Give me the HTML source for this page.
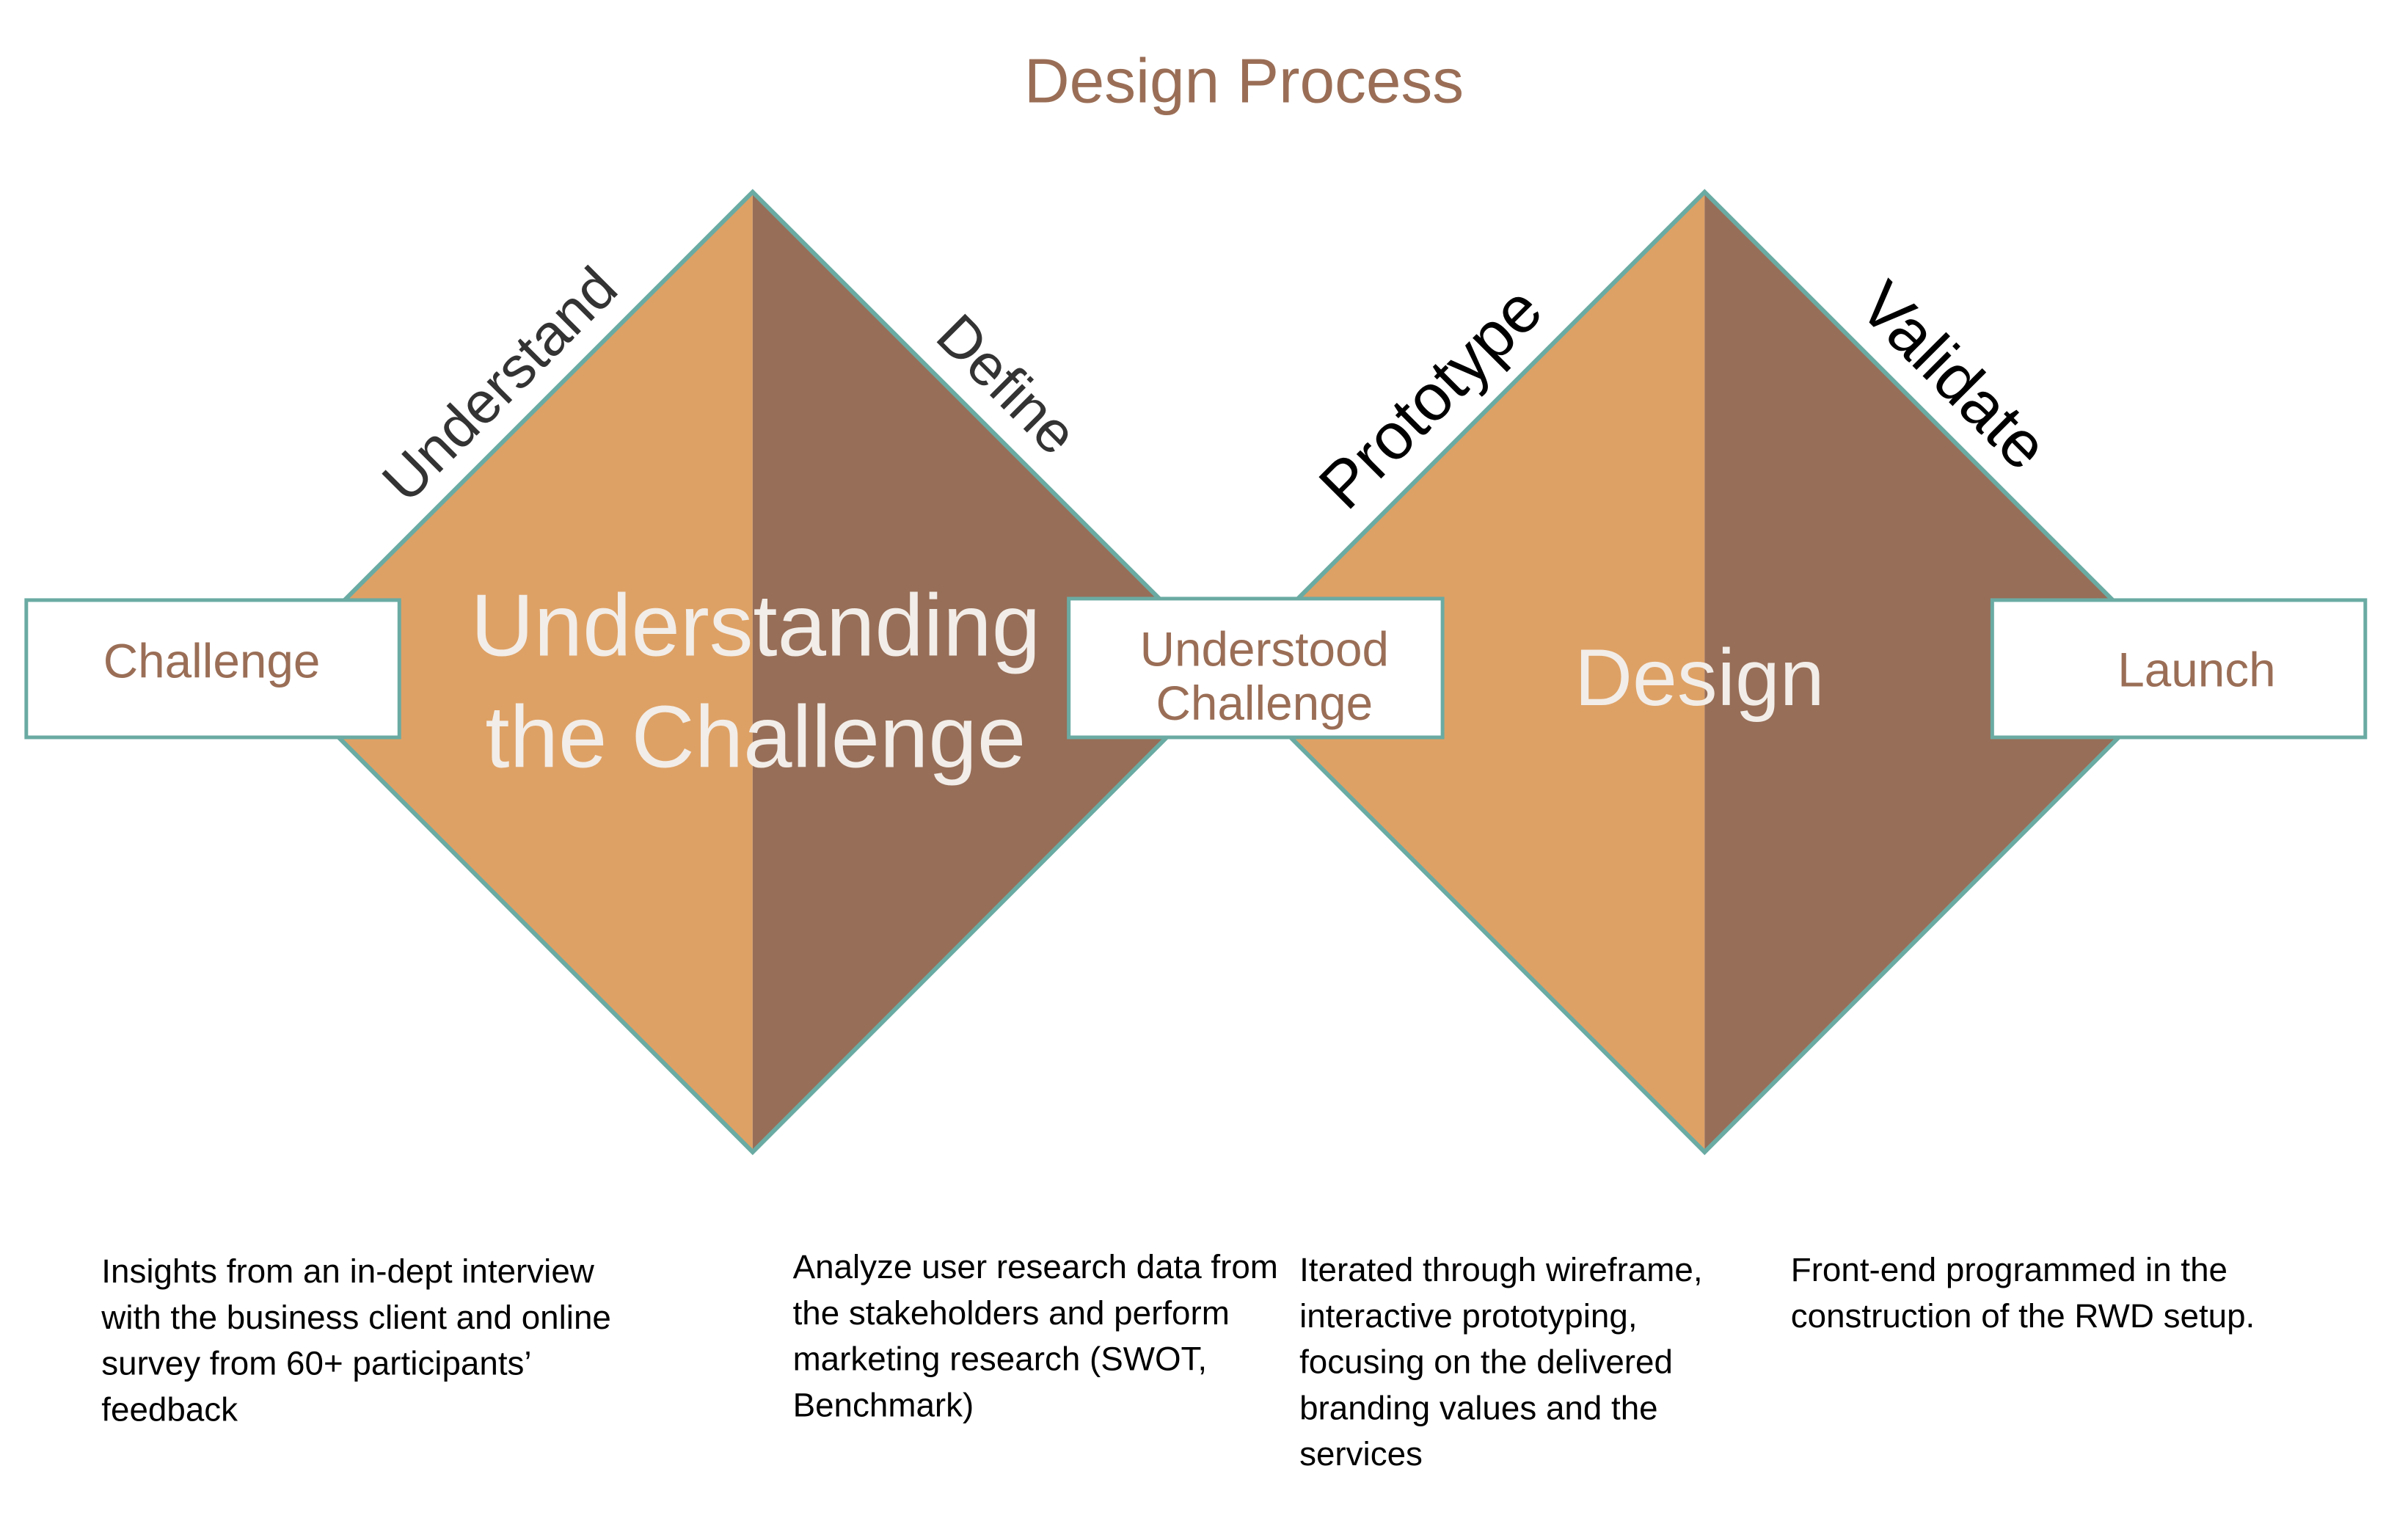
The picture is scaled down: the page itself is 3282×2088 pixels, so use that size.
<!DOCTYPE html>
<html><head><meta charset="utf-8"><style>
html,body{margin:0;padding:0;background:#fff;}
svg{display:block;}
text{font-family:"Liberation Sans",sans-serif;}
</style></head><body>
<svg width="3282" height="2088" viewBox="0 0 3282 2088" xmlns="http://www.w3.org/2000/svg">
<rect width="3282" height="2088" fill="#fff"/>
<g transform="scale(0.995)">
<text x="1704" y="140" font-size="86" fill="#9a6e56" text-anchor="middle">Design Process</text>

<polygon points="1031,263 374,920 1031,1578" fill="#dea165"/>
<polygon points="1031,263 1688,920 1031,1578" fill="#976e58"/>
<polygon points="1031,263 1688,920 1031,1578 374,920" fill="none" stroke="#6aaba3" stroke-width="6"/>
<polygon points="2335,263 1678,920 2335,1578" fill="#dea165"/>
<polygon points="2335,263 2992,920 2335,1578" fill="#976e58"/>
<polygon points="2335,263 2992,920 2335,1578 1678,920" fill="none" stroke="#6aaba3" stroke-width="6"/>

<text x="1035" y="898" font-size="120" fill="#f2ede8" text-anchor="middle">Understanding</text>
<text x="1035" y="1051" font-size="120" fill="#f2ede8" text-anchor="middle">the Challenge</text>
<text x="2328" y="966" font-size="110" fill="#f2ede8" text-anchor="middle">Design</text>

<text transform="translate(684,526) rotate(-45)" x="0" y="28" font-size="80" fill="#333" text-anchor="middle">Understand</text>
<text transform="translate(1380,526) rotate(45)" x="0" y="28" font-size="80" fill="#333" text-anchor="middle">Define</text>
<text transform="translate(1960,545) rotate(-45)" x="0" y="30" font-size="90" fill="#000" text-anchor="middle">Prototype</text>
<text transform="translate(2676,515) rotate(45)" x="0" y="30" font-size="90" fill="#000" text-anchor="middle">Validate</text>

<rect x="36" y="822" width="511" height="188" fill="#fff" stroke="#6aaba3" stroke-width="5"/>
<text x="290" y="928" font-size="66" fill="#9a6e56" text-anchor="middle">Challenge</text>
<rect x="1464" y="820" width="512" height="190" fill="#fff" stroke="#6aaba3" stroke-width="5"/>
<text x="1732" y="912" font-size="66" fill="#9a6e56" text-anchor="middle">Understood</text>
<text x="1732" y="986" font-size="66" fill="#9a6e56" text-anchor="middle">Challenge</text>
<rect x="2729" y="822" width="511" height="188" fill="#fff" stroke="#6aaba3" stroke-width="5"/>
<text x="3009" y="940" font-size="66" fill="#9a6e56" text-anchor="middle">Launch</text>

<g font-size="46" fill="#000">
<text x="139" y="1757">Insights from an in-dept interview</text>
<text x="139" y="1820">with the business client and online</text>
<text x="139" y="1883">survey from 60+ participants’</text>
<text x="139" y="1946">feedback</text>

<text x="1086" y="1751">Analyze user research data from</text>
<text x="1086" y="1814">the stakeholders and perform</text>
<text x="1086" y="1877">marketing research (SWOT,</text>
<text x="1086" y="1940">Benchmark)</text>

<text x="1780" y="1755">Iterated through wireframe,</text>
<text x="1780" y="1818">interactive prototyping,</text>
<text x="1780" y="1881">focusing on the delivered</text>
<text x="1780" y="1944">branding values and  the</text>
<text x="1780" y="2007">services</text>

<text x="2453" y="1755">Front-end programmed in the</text>
<text x="2453" y="1818">construction of the RWD setup.</text>
</g>
</g>
</svg>
</body></html>
